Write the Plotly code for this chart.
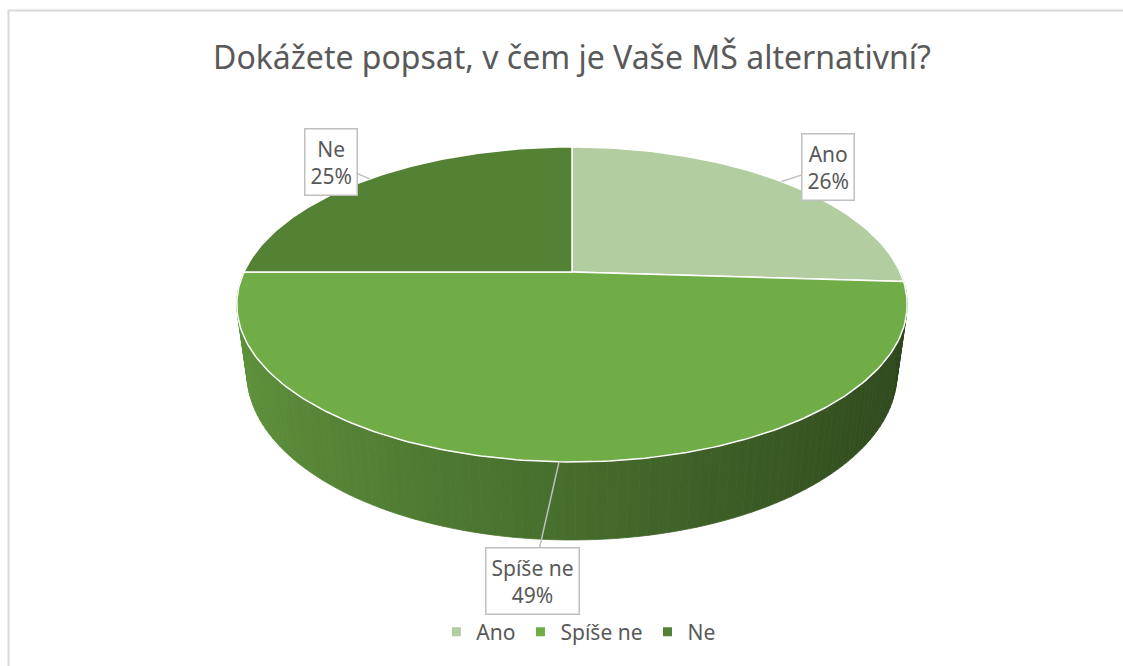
import math
import plotly.graph_objects as go

# data
categories = ["Ano", "Spíše ne", "Ne"]
values = [26, 49, 25]
colors = ["#B2CDA0", "#70AD47", "#548235"]
title_text = "Dokážete popsat, v čem je Vaše MŠ alternativní?"

# geometry of the tilted pie (pixel space, y grows downward)
W, H = 1123, 666
CX, CY = 572, 272
RX, RY = 328, 150.8
K, M = 0.206, 0.03
DEPTH = 70
FONT = "Noto Sans"
TEXT = "#595959"

# label placement (pixel offsets of the callout box from its anchor), same order as categories
label_offsets = [(46, -15), (-27, 119), (-39, -17)]


def project(theta_deg, w=0.0, r=1.0):
    t = math.radians(theta_deg)
    u, v = r * math.sin(t), r * math.cos(t)
    s = 1.0 / (1 + K * v + M * w)
    return CX + RX * u * s, CY + (-RY * v + DEPTH * w) * s


def hex_rgb(h):
    h = h.lstrip("#")
    return [int(h[i:i + 2], 16) for i in (0, 2, 4)]


def shade(hexcol, theta_deg):
    f = 0.63 + 0.22 * (-math.sin(math.radians(theta_deg)))
    r, g, b = [max(0, min(255, int(c * f))) for c in hex_rgb(hexcol)]
    return f"rgb({r},{g},{b})"


total = sum(values)
bounds = []
acc = 0
for v in values:
    a0 = acc / total * 360
    acc += v
    bounds.append((a0, acc / total * 360))

fig = go.Figure()

# side wall, built from thin strips, drawn back to front
strips = []
for i, (a0, a1) in enumerate(bounds):
    lo, hi = max(a0, 90), min(a1, 270)
    if hi <= lo:
        continue
    n = max(1, int((hi - lo) / 1.5))
    for j in range(n):
        t0 = lo + (hi - lo) * j / n
        t1 = lo + (hi - lo) * (j + 1) / n
        strips.append((t0, t1, colors[i]))
strips.sort(key=lambda s: -math.cos(math.radians((s[0] + s[1]) / 2)))
for t0, t1, col in strips:
    pts = [project(t0), project(t1), project(t1, 1), project(t0, 1)]
    xs = [p[0] for p in pts] + [pts[0][0]]
    ys = [p[1] for p in pts] + [pts[0][1]]
    c = shade(col, (t0 + t1) / 2)
    fig.add_trace(go.Scatter(x=xs, y=ys, mode="lines", fill="toself",
                             fillcolor=c, line=dict(color=c, width=0.8),
                             showlegend=False, hoverinfo="skip"))

# top faces
for i, (a0, a1) in enumerate(bounds):
    n = max(4, int((a1 - a0) / 1))
    pts = [(CX, CY)] + [project(a0 + (a1 - a0) * j / n) for j in range(n + 1)] + [(CX, CY)]
    fig.add_trace(go.Scatter(x=[p[0] for p in pts], y=[p[1] for p in pts],
                             mode="lines", fill="toself", fillcolor=colors[i],
                             line=dict(color="white", width=1.5),
                             showlegend=False, hoverinfo="skip"))

# legend entries
for name, col in zip(categories, colors):
    fig.add_trace(go.Scatter(x=[None], y=[None], mode="markers", name=name,
                             marker=dict(symbol="square", size=9, color=col)))

# callout labels
for i, (a0, a1) in enumerate(bounds):
    mid = (a0 + a1) / 2
    px, py = project(mid)
    pct = round(values[i] / total * 100)
    ax, ay = label_offsets[i]
    fig.add_annotation(x=px, y=py, xref="x", yref="y",
                       text=f"{categories[i]}<br>{pct}%",
                       showarrow=True, arrowhead=0, arrowwidth=1.5,
                       arrowcolor="#BFBFBF", standoff=0, ax=ax, ay=ay,
                       bgcolor="white", bordercolor="#BFBFBF", borderwidth=1.5,
                       borderpad=5, font=dict(family=FONT, size=21, color=TEXT))

# chart frame (top and left edges visible)
fig.add_shape(type="line", x0=8, x1=W, y0=10.5, y1=10.5, xref="x", yref="y",
              line=dict(color="#D9D9D9", width=2))
fig.add_shape(type="line", x0=8.5, x1=8.5, y0=10, y1=H, xref="x", yref="y",
              line=dict(color="#D9D9D9", width=2))

fig.update_layout(
    width=W, height=H,
    margin=dict(l=0, r=0, t=0, b=0),
    paper_bgcolor="white", plot_bgcolor="white",
    title=dict(text=title_text, x=572 / W, xanchor="center",
               y=1 - 58 / H, yanchor="middle",
               font=dict(family=FONT, size=32, color=TEXT)),
    xaxis=dict(range=[0, W], visible=False, fixedrange=True),
    yaxis=dict(range=[H, 0], visible=False, fixedrange=True),
    legend=dict(orientation="h", x=0.515, xanchor="center", y=1 - 632 / H,
                yanchor="middle", itemwidth=30,
                font=dict(family=FONT, size=21, color=TEXT)),
    hovermode=False,
)

fig.write_html("out.html", config={"displayModeBar": False},
               post_script="document.body.style.margin='0';")
